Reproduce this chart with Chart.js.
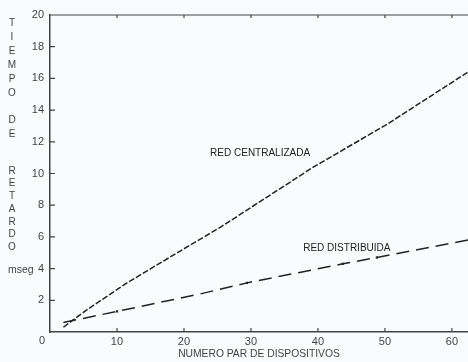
<!DOCTYPE html>
<html lang="es">
<head>
<meta charset="UTF-8">
<title>Tiempo de retardo</title>
<script src="https://cdn.jsdelivr.net/npm/chart.js@4.4.1/dist/chart.umd.min.js"></script>
<style>
  html, body { margin: 0; padding: 0; background: #fafbfc; }
  #wrap { width: 468px; height: 362px; }
</style>
</head>
<body>
<div id="wrap"><canvas id="retardo"></canvas></div>
<script>
// valores
const centralX = [2, 5.5, 11.5, 19.8, 25.4, 39.3, 50.3, 62.4];
const centralY = [0.3, 1.4, 3.1, 5.2, 6.6, 10.4, 13.1, 16.4];
const distribX = [2, 10, 22.4, 29.4, 43.7, 48.8, 62.4];
const distribY = [0.6, 1.3, 2.4, 3.1, 4.3, 4.7, 5.8];
const xTicks = [10, 20, 30, 40, 50, 60];
const yTicks = [2, 4, 6, 8, 10, 12, 14, 16, 18, 20];
const yTitleWords = ['TIEMPO', 'DE', 'RETARDO'];

const ink = '#232323';
const textCol = '#444';

const toPts = (xs, ys) => xs.map((x, i) => ({ x: x, y: ys[i] }));

// tick marks pointing into the plot, top border, labels
const decor = {
    id: 'decor',
    afterDraw(chart) {
        const { ctx, chartArea: a, scales: { x, y } } = chart;
        ctx.save();
        ctx.strokeStyle = '#444';
        ctx.lineWidth = 1.2;
        ctx.beginPath();
        ctx.moveTo(a.left, a.top);
        ctx.lineTo(a.right, a.top);
        xTicks.forEach(v => {
            const px = x.getPixelForValue(v);
            ctx.moveTo(px, a.bottom);
            ctx.lineTo(px, a.bottom - 4);
            ctx.moveTo(px, a.top);
            ctx.lineTo(px, a.top + 3);
        });
        yTicks.forEach(v => {
            const py = y.getPixelForValue(v);
            ctx.moveTo(a.left, py);
            ctx.lineTo(a.left + 5, py);
        });
        ctx.stroke();

        ctx.fillStyle = textCol;
        ctx.font = '11px "Liberation Sans", Arial, sans-serif';
        ctx.textAlign = 'center';
        ctx.textBaseline = 'middle';
        ctx.fillText('0', a.left - 8, a.bottom + 9);

        // vertical stacked title, one letter per line
        ctx.font = '10px "Liberation Sans", Arial, sans-serif';
        const starts = [23, 120, 171];
        const steps = [14, 14, 12.7];
        yTitleWords.forEach((w, k) => {
            w.split('').forEach((ch, i) => ctx.fillText(ch, 12, starts[k] + i * steps[k]));
        });
        ctx.textAlign = 'left';
        ctx.font = '10.5px "Liberation Sans", Arial, sans-serif';
        ctx.fillText('mseg', 8, y.getPixelForValue(4) + 2);

        ctx.font = '10px "Liberation Sans", Arial, sans-serif';
        ctx.fillStyle = '#222';
        ctx.fillText('RED CENTRALIZADA', x.getPixelForValue(23.9), y.getPixelForValue(11.3));
        ctx.fillText('RED DISTRIBUIDA', x.getPixelForValue(37.8), y.getPixelForValue(5.3));
        ctx.restore();
    }
};

const fixAxis = size => function (scale) {
    if (scale.isHorizontal()) scale.height = size; else scale.width = size;
};

new Chart(document.getElementById('retardo'), {
    type: 'line',
    data: {
        datasets: [
            {
                label: 'RED CENTRALIZADA',
                data: toPts(centralX, centralY),
                borderColor: ink,
                borderWidth: 1.5,
                borderDash: [6, 2],
                pointRadius: 0,
                tension: 0
            },
            {
                label: 'RED DISTRIBUIDA',
                data: toPts(distribX, distribY),
                borderColor: ink,
                borderWidth: 1.5,
                borderDash: [13, 7],
                pointStyle: 'rect',
                pointRadius: [0, 1.6, 0, 1.6, 1.6, 1.6, 0],
                pointBackgroundColor: ink,
                pointBorderWidth: 0,
                tension: 0
            }
        ]
    },
    options: {
        responsive: true,
        maintainAspectRatio: false,
        animation: false,
        layout: { padding: { top: 15, right: 0, left: 0, bottom: 0 } },
        plugins: {
            legend: { display: false },
            tooltip: { enabled: false }
        },
        scales: {
            x: {
                type: 'linear',
                min: 0,
                max: 62.4,
                afterFit: fixAxis(30),
                grid: { display: false, drawTicks: false },
                border: { display: true, color: '#444', width: 1.5 },
                ticks: {
                    stepSize: 10,
                    includeBounds: false,
                    padding: 3,
                    color: textCol,
                    font: { family: '"Liberation Sans", Arial, sans-serif', size: 11 },
                    callback: v => (xTicks.includes(v) ? String(v) : '')
                },
                title: {
                    display: true,
                    text: 'NUMERO PAR DE DISPOSITIVOS',
                    color: textCol,
                    align: 'center',
                    padding: { top: 0, bottom: 2 },
                    font: { family: '"Liberation Sans", Arial, sans-serif', size: 10.3 }
                }
            },
            y: {
                min: 0,
                max: 20,
                afterFit: fixAxis(50),
                grid: { display: false, drawTicks: false },
                border: { display: true, color: '#444', width: 1.5 },
                ticks: {
                    stepSize: 2,
                    padding: 6,
                    color: textCol,
                    font: { family: '"Liberation Sans", Arial, sans-serif', size: 11 },
                    callback: v => (yTicks.includes(v) ? String(v) : '')
                }
            }
        }
    },
    plugins: [decor]
});
</script>
</body>
</html>
